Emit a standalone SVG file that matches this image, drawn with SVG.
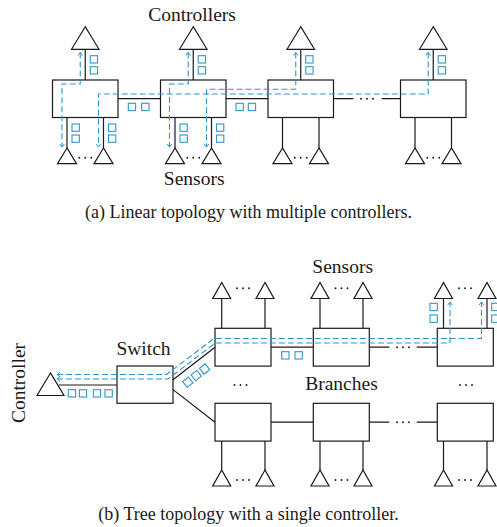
<svg xmlns="http://www.w3.org/2000/svg" width="497" height="527" viewBox="0 0 497 527">
<style>
.bx{fill:none;stroke:#1a1a1a;stroke-width:1.2}
.ln{fill:none;stroke:#1a1a1a;stroke-width:1.2}
.tri{fill:#fff;stroke:#1a1a1a;stroke-width:1.2;stroke-linejoin:miter}
.flow{fill:none;stroke:#2f97c7;stroke-width:1.1;stroke-dasharray:6 3;marker-start:url(#arr);marker-end:url(#arr)}
.pk{fill:none;stroke:#2f97c7;stroke-width:1.1}
.lbl{font-family:"Liberation Serif","Times New Roman",serif;font-size:19.5px;fill:#1a1a1a}
.cap{font-size:18px}
.dt{fill:#1a1a1a}
</style>
<defs>
<marker id="arr" viewBox="-4 -4 8 8" markerWidth="8" markerHeight="8" refX="0" refY="0" orient="auto-start-reverse" markerUnits="userSpaceOnUse">
<path d="M-3,-2.3 L0,0 L-3,2.3" fill="none" stroke="#2f97c7" stroke-width="1"/>
</marker>
<rect id="sq" width="7.3" height="7.3" class="pk"/>
<g id="dots3"><circle cx="-6" cy="0" r="0.95"/><circle cx="0" cy="0" r="0.95"/><circle cx="6" cy="0" r="0.95"/></g>
</defs>

<!-- ===== (a) Linear topology ===== -->
<g id="connectors-a">
<!-- stems to controllers -->
<path class="ln" d="M85.25,49.3V80M193.25,49.3V80M300.75,49.3V80M433.25,49.3V80"/>
<!-- legs to sensors -->
<path class="ln" d="M67,117.5V148M103.5,117.5V148M175,117.5V148M211.5,117.5V148M282.5,117.5V148M319,117.5V148M415,117.5V148M451.5,117.5V148"/>
<!-- box links -->
<path class="ln" d="M118,98.7H160.5M226,98.7H268M333.5,98.7H353.3M381.7,98.7H400.5"/>
<g class="dt"><use href="#dots3" x="367" y="98.7"/></g>
</g>

<g id="a-switch1"><rect class="bx" x="52.5" y="80" width="65.5" height="37.5"/></g>
<g id="a-switch2"><rect class="bx" x="160.5" y="80" width="65.5" height="37.5"/></g>
<g id="a-switch3"><rect class="bx" x="268" y="80" width="65.5" height="37.5"/></g>
<g id="a-switch4"><rect class="bx" x="400.5" y="80" width="65.5" height="37.5"/></g>

<g id="a-controller1"><polygon class="tri" points="85.25,26.7 71.5,49.3 99,49.3"/></g>
<g id="a-controller2"><polygon class="tri" points="193.25,26.7 179.5,49.3 207,49.3"/></g>
<g id="a-controller3"><polygon class="tri" points="300.75,26.7 287,49.3 314.5,49.3"/></g>
<g id="a-controller4"><polygon class="tri" points="433.25,26.7 419.5,49.3 447,49.3"/></g>

<g id="a-sensors1"><polygon class="tri" points="67,148 57.5,163.7 76.5,163.7"/><polygon class="tri" points="103.5,148 94,163.7 113,163.7"/><g class="dt"><use href="#dots3" x="85.25" y="157.7"/></g></g>
<g id="a-sensors2"><polygon class="tri" points="175,148 165.5,163.7 184.5,163.7"/><polygon class="tri" points="211.5,148 202,163.7 221,163.7"/><g class="dt"><use href="#dots3" x="193.25" y="157.7"/></g></g>
<g id="a-sensors3"><polygon class="tri" points="282.5,148 273,163.7 292,163.7"/><polygon class="tri" points="319,148 309.5,163.7 328.5,163.7"/><g class="dt"><use href="#dots3" x="300.75" y="157.7"/></g></g>
<g id="a-sensors4"><polygon class="tri" points="415,148 405.5,163.7 424.5,163.7"/><polygon class="tri" points="451.5,148 442,163.7 461,163.7"/><g class="dt"><use href="#dots3" x="433.25" y="157.7"/></g></g>

<g id="flows-a">
<path class="flow" d="M80.25,52.5V84H62V147"/>
<path class="flow" d="M188.25,52.5V84H169.5V147"/>
<path class="flow" d="M295.75,52.5V89.3H206.5V147"/>
<path class="flow" d="M428.25,52.5V94H98.5V147"/>
</g>

<g id="packets-a">
<use href="#sq" x="90.25" y="55.7"/><use href="#sq" x="90.25" y="66.7"/>
<use href="#sq" x="198.25" y="55.7"/><use href="#sq" x="198.25" y="66.7"/>
<use href="#sq" x="305.75" y="55.7"/><use href="#sq" x="305.75" y="66.7"/>
<use href="#sq" x="438.25" y="55.7"/><use href="#sq" x="438.25" y="66.7"/>
<use href="#sq" x="72" y="124"/><use href="#sq" x="72" y="135"/>
<use href="#sq" x="108.5" y="124"/><use href="#sq" x="108.5" y="135"/>
<use href="#sq" x="180" y="124"/><use href="#sq" x="180" y="135"/>
<use href="#sq" x="216.5" y="124"/><use href="#sq" x="216.5" y="135"/>
<use href="#sq" x="128.3" y="103.3"/><use href="#sq" x="141.7" y="103.3"/>
<use href="#sq" x="236" y="103.3"/><use href="#sq" x="248.3" y="103.3"/>
</g>

<text class="lbl" x="192" y="20.5" text-anchor="middle">Controllers</text>
<text class="lbl" x="194.2" y="185" text-anchor="middle">Sensors</text>
<text class="lbl cap" x="248.5" y="218" text-anchor="middle">(a) Linear topology with multiple controllers.</text>

<!-- ===== (b) Tree topology ===== -->
<g id="connectors-b">
<path class="ln" d="M59,385H117"/>
<path class="ln" d="M172.7,380L215,347.2M172.7,389.4L215,422.2"/>
<path class="ln" d="M271,347.2H313.3M369.3,347.2H389.3M416.7,347.2H437.3"/>
<path class="ln" d="M271,422.2H313.3M369.3,422.2H389.3M416.7,422.2H437.3"/>
<g class="dt"><use href="#dots3" x="403" y="347.2"/><use href="#dots3" x="403" y="422.2"/></g>
<path class="ln" d="M221.7,298.5V328.3M265,298.5V328.3M320,298.5V328.3M363,298.5V328.3M443.5,298.5V328.3M487,298.5V328.3"/>
<path class="ln" d="M221.7,441.1V470M265,441.1V470M320,441.1V470M363,441.1V470M443.5,441.1V470M487,441.1V470"/>
</g>

<g id="b-controller"><polygon class="tri" points="50.5,373 37,395.5 64,395.5"/></g>
<g id="b-switch"><rect class="bx" x="117" y="366" width="56" height="37.3"/></g>

<g id="b-upper1"><rect class="bx" x="215" y="328.3" width="56" height="37.8"/></g>
<g id="b-upper2"><rect class="bx" x="313.3" y="328.3" width="56" height="37.8"/></g>
<g id="b-upper3"><rect class="bx" x="437.3" y="328.3" width="56" height="37.8"/></g>
<g id="b-lower1"><rect class="bx" x="215" y="403.3" width="56" height="37.8"/></g>
<g id="b-lower2"><rect class="bx" x="313.3" y="403.3" width="56" height="37.8"/></g>
<g id="b-lower3"><rect class="bx" x="437.3" y="403.3" width="56" height="37.8"/></g>

<g id="b-sensors-u1"><polygon class="tri" points="221.7,282.5 212.7,298.5 230.7,298.5"/><polygon class="tri" points="265,282.5 256,298.5 274,298.5"/><g class="dt"><use href="#dots3" x="243" y="288.3"/></g></g>
<g id="b-sensors-u2"><polygon class="tri" points="320,282.5 311,298.5 329,298.5"/><polygon class="tri" points="363,282.5 354,298.5 372,298.5"/><g class="dt"><use href="#dots3" x="341.5" y="288.3"/></g></g>
<g id="b-sensors-u3"><polygon class="tri" points="443.5,282.5 434.5,298.5 452.5,298.5"/><polygon class="tri" points="487,282.5 478,298.5 496,298.5"/><g class="dt"><use href="#dots3" x="465" y="288.3"/></g></g>
<g id="b-sensors-l1"><polygon class="tri" points="221.7,470 212.7,486 230.7,486"/><polygon class="tri" points="265,470 256,486 274,486"/><g class="dt"><use href="#dots3" x="243" y="480"/></g></g>
<g id="b-sensors-l2"><polygon class="tri" points="320,470 311,486 329,486"/><polygon class="tri" points="363,470 354,486 372,486"/><g class="dt"><use href="#dots3" x="341.5" y="480"/></g></g>
<g id="b-sensors-l3"><polygon class="tri" points="443.5,470 434.5,486 452.5,486"/><polygon class="tri" points="487,470 478,486 496,486"/><g class="dt"><use href="#dots3" x="465" y="480"/></g></g>

<g id="b-more" class="dt"><use href="#dots3" x="240.5" y="385"/><use href="#dots3" x="466" y="385"/></g>

<g id="flows-b">
<path class="flow" d="M57,374.5H166.5L213.9,338.5H481.5V302"/>
<path class="flow" d="M57,379H168L215.4,343H450V302"/>
</g>

<g id="packets-b">
<use href="#sq" x="68.3" y="389.7"/><use href="#sq" x="79.3" y="389.7"/><use href="#sq" x="93.3" y="389.7"/><use href="#sq" x="105" y="389.7"/>
<g transform="translate(187.8,382.2) rotate(-37.8)"><use href="#sq" x="-3.65" y="-3.65"/></g>
<g transform="translate(196.2,375.6) rotate(-37.8)"><use href="#sq" x="-3.65" y="-3.65"/></g>
<g transform="translate(204.6,369) rotate(-37.8)"><use href="#sq" x="-3.65" y="-3.65"/></g>
<use href="#sq" x="281.7" y="351.7"/><use href="#sq" x="295" y="351.7"/>
<use href="#sq" x="430" y="303.3"/><use href="#sq" x="430" y="315"/>
<use href="#sq" x="491.7" y="303.3"/><use href="#sq" x="491.7" y="315"/>
</g>

<text class="lbl" transform="translate(25,383) rotate(-90)" text-anchor="middle">Controller</text>
<text class="lbl" x="143.5" y="355" text-anchor="middle">Switch</text>
<text class="lbl" x="342.7" y="273.3" text-anchor="middle">Sensors</text>
<text class="lbl" x="341.5" y="390" text-anchor="middle">Branches</text>
<text class="lbl cap" x="248.5" y="520" text-anchor="middle">(b) Tree topology with a single controller.</text>
</svg>
